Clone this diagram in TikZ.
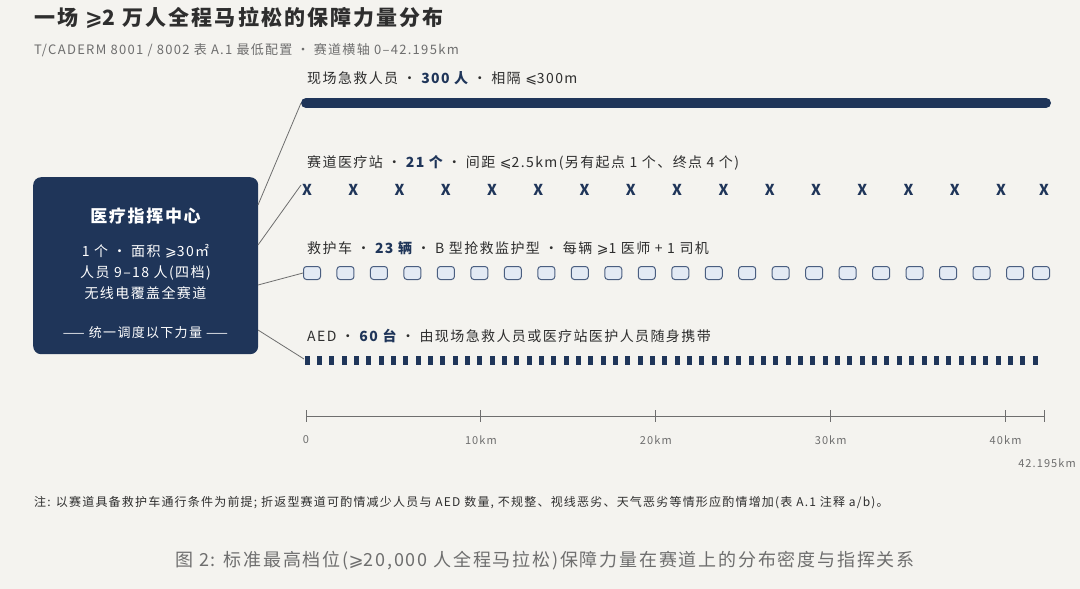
\documentclass[tikz,border=0pt]{standalone}
\usepackage{fontspec}
\setmainfont[LetterSpace=10]{Noto Sans CJK SC}
\newfontfamily\dvs{DejaVu Sans}
\newcommand\mle{{\dvs ⩽}}
\newcommand\mge{{\dvs ⩾}}
\definecolor{bg}{HTML}{F4F3EF}
\definecolor{navy}{HTML}{1F3559}
\definecolor{ink}{HTML}{2E2E2E}
\definecolor{grey}{HTML}{6E6E6E}
\definecolor{amb}{HTML}{E3EAF4}
\definecolor{ambd}{HTML}{4A5E80}
\begin{document}
\begin{tikzpicture}[x=1pt,y=-1pt,
  lab/.style={anchor=west,font=\fontsize{14}{16}\selectfont,text=ink,inner sep=0},
  conn/.style={draw=grey,line width=0.8pt},
  tick/.style={draw=grey,line width=0.9pt},
  ax/.style={font=\fontsize{11}{13}\selectfont,text=grey,inner sep=0}]
\fill[bg] (0,0) rectangle (1080,589);
\useasboundingbox (0,0) rectangle (1080,589);
\node[anchor=west,inner sep=0,font=\fontsize{21}{25}\selectfont\bfseries,text=ink] (title) at (34,18) {一场 \mge2 万人全程马拉松的保障力量分布};
\node[anchor=west,inner sep=0,font=\fontsize{13}{15}\selectfont,text=grey] (sub) at (34,50) {T/CADERM 8001 / 8002 表 A.1 最低配置 · 赛道横轴 0–42.195km};
% box
\node[fill=navy,rounded corners=8pt,minimum width=225pt,minimum height=177pt,anchor=north west,inner sep=0] (hq) at (33,177) {};
\node[text=white,font=\fontsize{17}{19}\selectfont\bfseries] (hqt) at (145.5,216) {医疗指挥中心};
\node[text=white,font=\fontsize{14}{16}\selectfont,align=center] (hqd) at (145.5,272) {1 个 · 面积 \mge30㎡\\[5pt]人员 9–18 人(四档)\\[5pt]无线电覆盖全赛道};
\node[text=white,font=\fontsize{13}{15}\selectfont] (hqf) at (145.5,333) {—— 统一调度以下力量 ——};
% labels
\node[lab] (l1) at (307,78) {现场急救人员 · {\color{navy}\bfseries 300 人} · 相隔 \mle300m};
\node[lab] (l2) at (307,163) {赛道医疗站 · {\color{navy}\bfseries 21 个} · 间距 \mle2.5km(另有起点 1 个、终点 4 个)};
\node[lab] (l3) at (307,248) {救护车 · {\color{navy}\bfseries 23 辆} · B 型抢救监护型 · 每辆 \mge1 医师 + 1 司机};
\node[lab] (l4) at (307,336) {AED · {\color{navy}\bfseries 60 台} · 由现场急救人员或医疗站医护人员随身携带};
% row 1
\coordinate (r1a) at (306,103); \coordinate (r1b) at (1046,103);
\draw[navy,line width=10pt,line cap=round] (r1a) -- (r1b);
% row 2
\foreach \i in {0,...,15} \node[text=navy,font=\fontsize{15}{17}\selectfont\bfseries,inner sep=0] (x\i) at ({307+\i*46.27},190) {X};
\node[text=navy,font=\fontsize{15}{17}\selectfont\bfseries,inner sep=0] (x16) at (1044,190) {X};
% row 3
\foreach \i in {0,...,21} \node[draw=ambd,fill=amb,line width=1pt,rounded corners=3pt,minimum width=17pt,minimum height=13pt,inner sep=0] (a\i) at ({312+\i*33.48},273) {};
\node[draw=ambd,fill=amb,line width=1pt,rounded corners=3pt,minimum width=17pt,minimum height=13pt,inner sep=0] (a22) at (1041,273) {};
% row 4
\foreach \i in {0,...,59} \fill[navy] ({307+\i*12.34-2.5},356) rectangle ++(5,9);
% connectors
\draw[conn] (258,205) -- (301,103);
\draw[conn] (258,245) -- (301,185);
\draw[conn] (258,285) -- (a0.west);
\draw[conn] (258,330) -- (304,359);
% axis
\coordinate (ax0) at (306,416); \coordinate (ax1) at (1044,416);
\draw[tick] (ax0) -- (ax1);
\foreach \k/\t in {0/0,10/10km,20/20km,30/30km,40/40km} {
  \draw[tick] ({306+\k*17.49},410) -- ({306+\k*17.49},422);
  \node[ax] at ({306+\k*17.49},440) {\t};}
\draw[tick] (1044,410) -- (1044,422);
\node[ax,anchor=east] (endl) at (1076,463) {42.195km};
\node[anchor=west,inner sep=0,font=\fontsize{12}{14}\selectfont,text=ink] (note) at (34,503) {注: 以赛道具备救护车通行条件为前提; 折返型赛道可酌情减少人员与 AED 数量, 不规整、视线恶劣、天气恶劣等情形应酌情增加(表 A.1 注释 a/b)。};
\node[inner sep=0,font=\fontsize{18}{21}\selectfont,text=grey] (cap) at (545,561) {图 2: 标准最高档位(\mge20,000 人全程马拉松)保障力量在赛道上的分布密度与指挥关系};
\end{tikzpicture}
\end{document}
